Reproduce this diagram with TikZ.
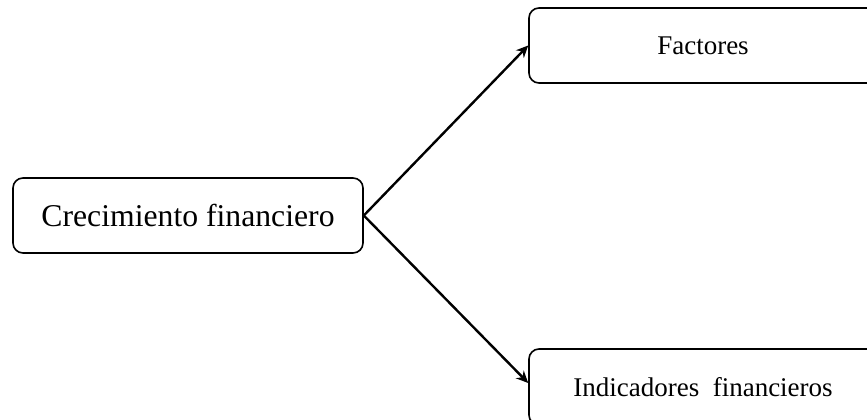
\documentclass[tikz,border=0pt]{standalone}
\usepackage{fontspec}
\setmainfont{Liberation Serif}
\usetikzlibrary{arrows.meta}
\begin{document}
\begin{tikzpicture}[x=1pt,y=-1pt,
  box/.style={draw=black,line width=1.6pt,rounded corners=10pt,inner sep=0pt,anchor=center},
  conn/.style={line width=2.4pt,-{Stealth[length=12pt,width=11pt]}}]
\useasboundingbox (0,0) rectangle (867,420);
\clip (0,0) rectangle (867,420);
\node[box,minimum width=350pt,minimum height=75pt,font=\fontsize{31.7}{36}\selectfont] (src) at (188,215.5) {Crecimiento financiero};
\node[box,minimum width=348pt,minimum height=75pt,font=\fontsize{27}{32}\selectfont] (fac) at (703,45.5) {Factores};
\node[box,minimum width=348pt,minimum height=76pt,font=\fontsize{27}{32}\selectfont] (ind) at (703,387) {Indicadores\hspace{0.5em}financieros};
\draw[conn] (src.east) -- (fac.west);
\draw[conn] (src.east) -- ([yshift=4pt]ind.west);
\end{tikzpicture}
\end{document}
